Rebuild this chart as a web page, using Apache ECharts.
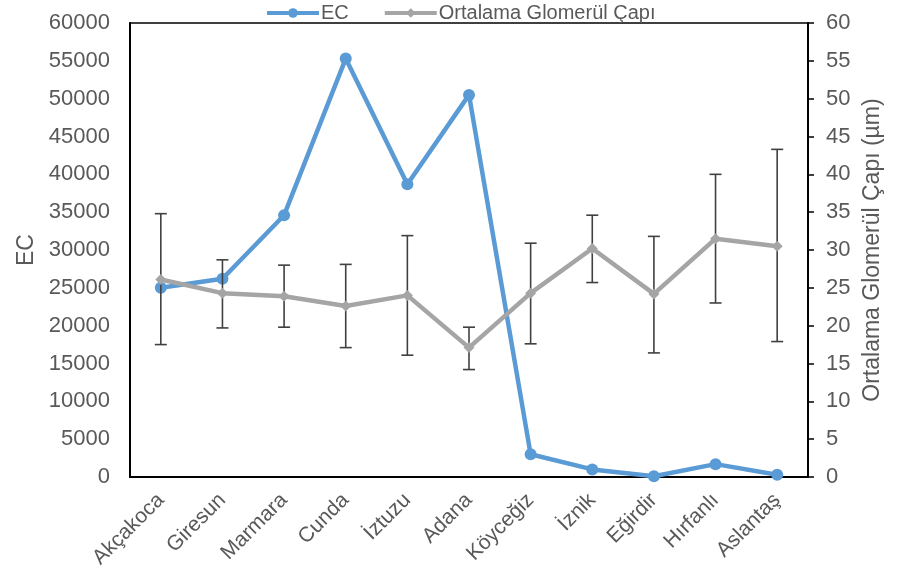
<!DOCTYPE html>
<html>
<head>
<meta charset="utf-8">
<script src="https://cdn.jsdelivr.net/npm/echarts@6/dist/echarts.min.js"></script>
<style>
  html, body { margin: 0; padding: 0; background: #fff; }
  #chart { width: 897px; height: 580px; }
</style>
</head>
<body>
<div id="chart"></div>
<script>
// kategoriler (lokasyonlar)
const categories = ["Akçakoca", "Giresun", "Marmara", "Cunda", "İztuzu", "Adana", "Köyceğiz", "İznik", "Eğirdir", "Hırfanlı", "Aslantaş"];
// EC değerleri (sol eksen)
const ecValues = [25000, 26200, 34600, 55300, 38700, 50500, 3000, 1000, 100, 1700, 300];
// ortalama glomerül çapı (sağ eksen, µm)
const glomMean = [26.1, 24.3, 23.9, 22.6, 24.0, 17.1, 24.3, 30.2, 24.2, 31.5, 30.5];
// hata çubukları alt / üst
const glomLow = [17.5, 19.7, 19.8, 17.1, 16.1, 14.2, 17.6, 25.7, 16.4, 23.0, 17.9];
const glomHigh = [34.8, 28.7, 28.0, 28.1, 31.9, 19.8, 30.9, 34.6, 31.8, 40.0, 43.3];

const font = "Liberation Sans, Arial, sans-serif";
const txt = "#595959";

const myChart = echarts.init(document.getElementById("chart"));

myChart.setOption({
  animation: false,
  textStyle: { fontFamily: font },
  legend: {
    top: -2,
    left: 260,
    itemWidth: 52,
    itemHeight: 12,
    itemGap: 34,
    lineStyle: { width: 4 },
    textStyle: { fontSize: 20, color: txt, fontFamily: font, padding: [0, 0, 0, -3] },
    data: ["EC", "Ortalama Glomerül Çapı"],
  },
  grid: {
    left: 130,
    right: 89,
    top: 23,
    bottom: 103,
    show: true,
    borderColor: "#000",
    borderWidth: 1.5,
  },
  xAxis: {
    type: "category",
    data: categories,
    boundaryGap: true,
    axisTick: { show: false },
    axisLine: { lineStyle: { color: "#000", width: 2 } },
    axisLabel: { rotate: 45, fontSize: 21, color: txt, margin: 20, interval: 0 },
  },
  yAxis: [
    {
      type: "value",
      min: 0,
      max: 60000,
      interval: 5000,
      name: "EC",
      nameLocation: "middle",
      nameGap: 84,
      nameTextStyle: { fontSize: 23, color: txt },
      splitLine: { show: false },
      axisTick: { show: false },
      axisLine: { show: true, lineStyle: { color: "#000", width: 2 } },
      axisLabel: { fontSize: 22, color: txt, margin: 20, formatter: (v) => String(v) },
    },
    {
      type: "value",
      min: 0,
      max: 60,
      interval: 5,
      name: "Ortalama Glomerül Çapı (µm)",
      nameLocation: "middle",
      nameGap: 53,
      nameRotate: 90,
      nameTextStyle: { fontSize: 23, color: txt },
      splitLine: { show: false },
      axisTick: { show: true, inside: false, length: 6, lineStyle: { color: "#000", width: 1.5 } },
      axisLine: { show: true, lineStyle: { color: "#000", width: 2 } },
      axisLabel: { fontSize: 22, color: txt, margin: 18 },
    },
  ],
  series: [
    {
      name: "EC",
      type: "line",
      yAxisIndex: 0,
      data: ecValues,
      color: "#5B9BD5",
      symbol: "circle",
      symbolSize: 12,
      lineStyle: { width: 4.5, color: "#5B9BD5" },
      itemStyle: { color: "#5B9BD5" },
      z: 2,
    },
    {
      name: "hata",
      type: "custom",
      yAxisIndex: 1,
      data: categories.map((c, i) => [i, glomLow[i], glomHigh[i]]),
      renderItem: function (params, api) {
        const lo = api.coord([api.value(0), api.value(1)]);
        const hi = api.coord([api.value(0), api.value(2)]);
        const w = 6;
        const st = { stroke: "#404040", lineWidth: 1.6 };
        return {
          type: "group",
          children: [
            { type: "line", shape: { x1: hi[0], y1: hi[1], x2: lo[0], y2: lo[1] }, style: st },
            { type: "line", shape: { x1: hi[0] - w, y1: hi[1], x2: hi[0] + w, y2: hi[1] }, style: st },
            { type: "line", shape: { x1: lo[0] - w, y1: lo[1], x2: lo[0] + w, y2: lo[1] }, style: st },
          ],
        };
      },
      z: 3,
      silent: true,
    },
    {
      name: "Ortalama Glomerül Çapı",
      type: "line",
      yAxisIndex: 1,
      data: glomMean,
      color: "#A5A5A5",
      symbol: "diamond",
      symbolSize: 11,
      lineStyle: { width: 4.5, color: "#A5A5A5" },
      itemStyle: { color: "#A5A5A5" },
      z: 4,
    },
  ],
});
</script>
</body>
</html>
